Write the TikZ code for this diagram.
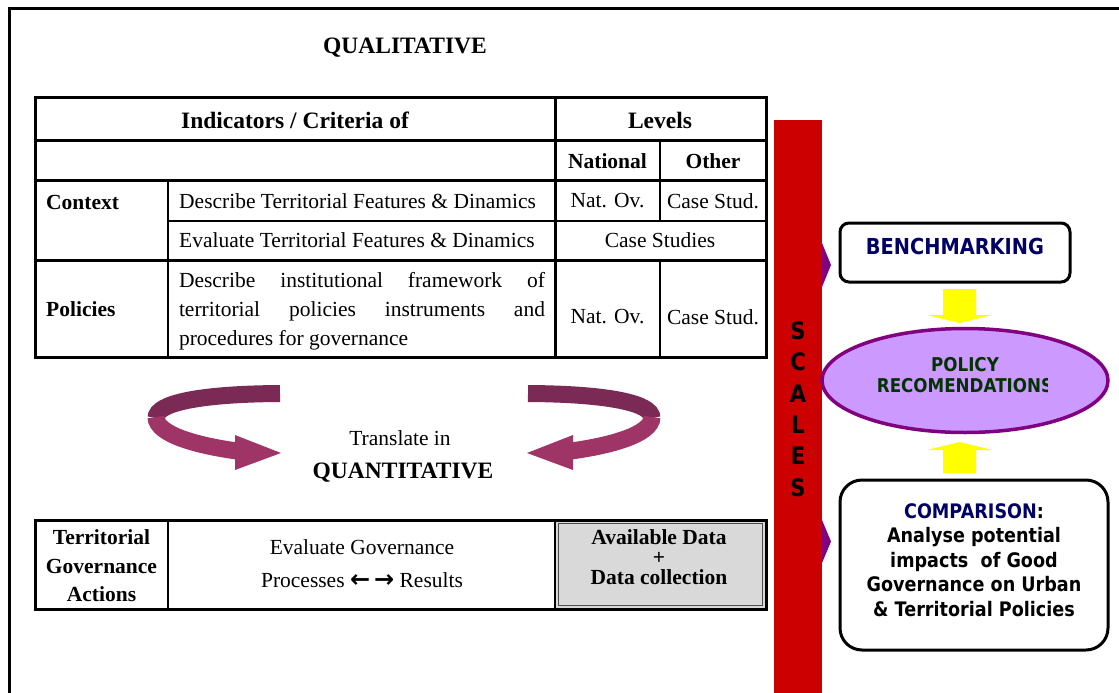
\documentclass[tikz,border=0pt]{standalone}
\usepackage{fontspec}
\usetikzlibrary{shapes.geometric}
\setmainfont{Liberation Serif}
\newfontfamily\tah[FakeStretch=0.88]{DejaVu Sans}
\newfontfamily\arrowfont{DejaVu Sans}
\definecolor{redbar}{HTML}{CC0000}
\definecolor{purp}{HTML}{800080}
\definecolor{lilac}{HTML}{CC99FF}
\definecolor{navyt}{HTML}{000066}
\definecolor{greent}{HTML}{003300}
\definecolor{ribdark}{HTML}{7B2A55}
\definecolor{riblight}{HTML}{9E3566}
\definecolor{cellgray}{HTML}{D9D9D9}
\definecolor{yel}{HTML}{FFFF00}
\tikzset{
  txt/.style={inner sep=0pt, font=\fontsize{21.5}{29}\selectfont},
  btxt/.style={inner sep=0pt, font=\fontsize{21.5}{29}\selectfont\bfseries},
  htxt/.style={inner sep=0pt, font=\fontsize{23.5}{29}\selectfont\bfseries},
  stxt/.style={inner sep=0pt, font=\tah\bfseries\fontsize{20}{24.5}\selectfont, align=center},
  thick line/.style={line width=3pt},
  thin line/.style={line width=1.5pt},
  roundbox/.style={draw=black, line width=3pt, fill=white},
  ribbonback/.style={draw=ribdark, line width=17pt, line cap=butt},
  ribbonfront/.style={draw=riblight, line width=17pt, line cap=butt},
  yarrow/.style={fill=yel, draw=none},
  tip/.style={fill=purp, draw=none}
}
\begin{document}
\begin{tikzpicture}[x=1pt,y=-1pt]
\useasboundingbox (0,0) rectangle (1119,693);
% outer frame
\draw[line width=3pt] (9,700) -- (9,9) -- (1125,9);

\node[htxt] (qual) at (405,48) {QUALITATIVE};

% ---- upper table ----
\draw[thick line] (35,97) rectangle (766,357);
\draw[thick line] (35,140) -- (766,140);
\draw[thick line] (35,180) -- (766,180);
\draw[line width=2.5pt] (168,221) -- (766,221);
\draw[thick line] (35,260) -- (766,260);
\draw[line width=2pt] (168,180) -- (168,357);
\draw[thick line] (555,97) -- (555,357);
\draw[line width=2pt] (660,140) -- (660,221);
\draw[thin line] (660,260) -- (660,357);

\node[htxt] (ind) at (295,120) {Indicators / Criteria of};
\node[htxt] (lev) at (660,120) {Levels};
\node[btxt] (nat) at (607.5,161) {National};
\node[btxt] (oth) at (713,161) {Other};
\node[btxt, anchor=west] (ctx) at (46,202) {Context};
\node[txt, anchor=west] (d1) at (179,201) {Describe Territorial Features \& Dinamics};
\node[txt] (no1) at (607.5,201) {Nat. Ov.};
\node[txt] (cs1) at (713,201) {Case Stud.};
\node[txt, anchor=west] (e1) at (179,240) {Evaluate Territorial Features \& Dinamics};
\node[txt] (cs2) at (660,240) {Case Studies};
\node[btxt, anchor=west] (pol) at (46,309) {Policies};
\node[txt, align=left] (pold) at (362,311) {\makebox[366pt][s]{Describe institutional framework of}\\\makebox[366pt][s]{territorial policies instruments and}\\procedures for governance};
\node[txt] (no2) at (607.5,317) {Nat. Ov.};
\node[txt] (cs3) at (713,317) {Case Stud.};

% ---- ribbons ----
\draw[ribbonback] (280,393.5) .. controls (200,394) and (156,403) .. (156,418);
\draw[ribbonfront] (156,417) .. controls (156,435) and (200,446) .. (237,451);
\fill[riblight] (235,435) -- (281,453) -- (235,470) -- cycle;
\draw[ribbonback] (528,393.5) .. controls (608,394) and (652,403) .. (652,418);
\draw[ribbonfront] (652,417) .. controls (652,435) and (608,446) .. (571,451);
\fill[riblight] (573,435) -- (527,453) -- (573,470) -- cycle;

\node[txt] (tr) at (400,438) {Translate in};
\node[htxt] (quant) at (403,473) {QUANTITATIVE};

% ---- lower table ----
\fill[cellgray] (555,520) rectangle (766,609);
\draw[line width=1pt, black!70] (558.5,523.5) rectangle (762.5,605.5);
\draw[thick line] (35,520) rectangle (766,609);
\draw[line width=2pt] (168,520) -- (168,609);
\draw[line width=2pt] (555,520) -- (555,609);
\node[btxt, align=center, font=\fontsize{21.5}{28.5}\selectfont\bfseries] (tga) at (101.5,566) {Territorial\\Governance\\Actions};
\node[txt] (eg) at (362,547) {Evaluate Governance};
\node[txt] (pr) at (362,580) {Processes {\arrowfont\bfseries\fontsize{24}{20}\selectfont ←\,→} Results};
\node[btxt, align=center, font=\fontsize{21.5}{20}\selectfont\bfseries] (ad) at (659,557) {Available Data\\+\\Data collection};

% ---- scales bar ----
\fill[redbar] (774,120) rectangle (822,700);
\node[inner sep=0pt, align=center, font=\tah\bfseries\fontsize{24}{31.4}\selectfont] (scales) at (798,409) {S\\C\\A\\L\\E\\S};
\fill[tip] (822,243) -- (831,265) -- (822,287) -- cycle;
\fill[tip] (822,520) -- (831,541.5) -- (822,563) -- cycle;

% ---- right boxes ----
\node[roundbox, rounded corners=9pt, minimum width=230pt, minimum height=59pt, inner sep=0pt] (bench) at (955,252.5) {};
\node[stxt, text=navyt, font=\tah\bfseries\fontsize{22}{24}\selectfont] (bencht) at (955,246) {BENCHMARKING};

\node[draw=purp, fill=lilac, line width=3.5pt, ellipse, minimum width=286pt, minimum height=104pt, inner sep=0pt] (polrec) at (965,380.5) {};
\begin{scope}
\clip (860,340) rectangle (1047,410);
\node[stxt, text=greent, font=\tah\bfseries\fontsize{19}{21}\selectfont] (polt) at (965,375) {POLICY\\RECOMENDATIONS};
\end{scope}

\node[roundbox, rounded corners=22pt, minimum width=268pt, minimum height=170pt, inner sep=0pt] (comp) at (974,565) {};
\node[stxt] (compt) at (974,560) {{\color{navyt}COMPARISON}:\\Analyse potential\\impacts\ \ of Good\\Governance on Urban\\\& Territorial Policies};

% yellow arrows
\fill[yarrow] (943,289) -- (976,289) -- (976,315) -- (992,315) -- (959.5,323) -- (927,315) -- (943,315) -- cycle;
\fill[yarrow] (943,473) -- (976,473) -- (976,450) -- (992,450) -- (959.5,442) -- (927,450) -- (943,450) -- cycle;
\end{tikzpicture}
\end{document}
